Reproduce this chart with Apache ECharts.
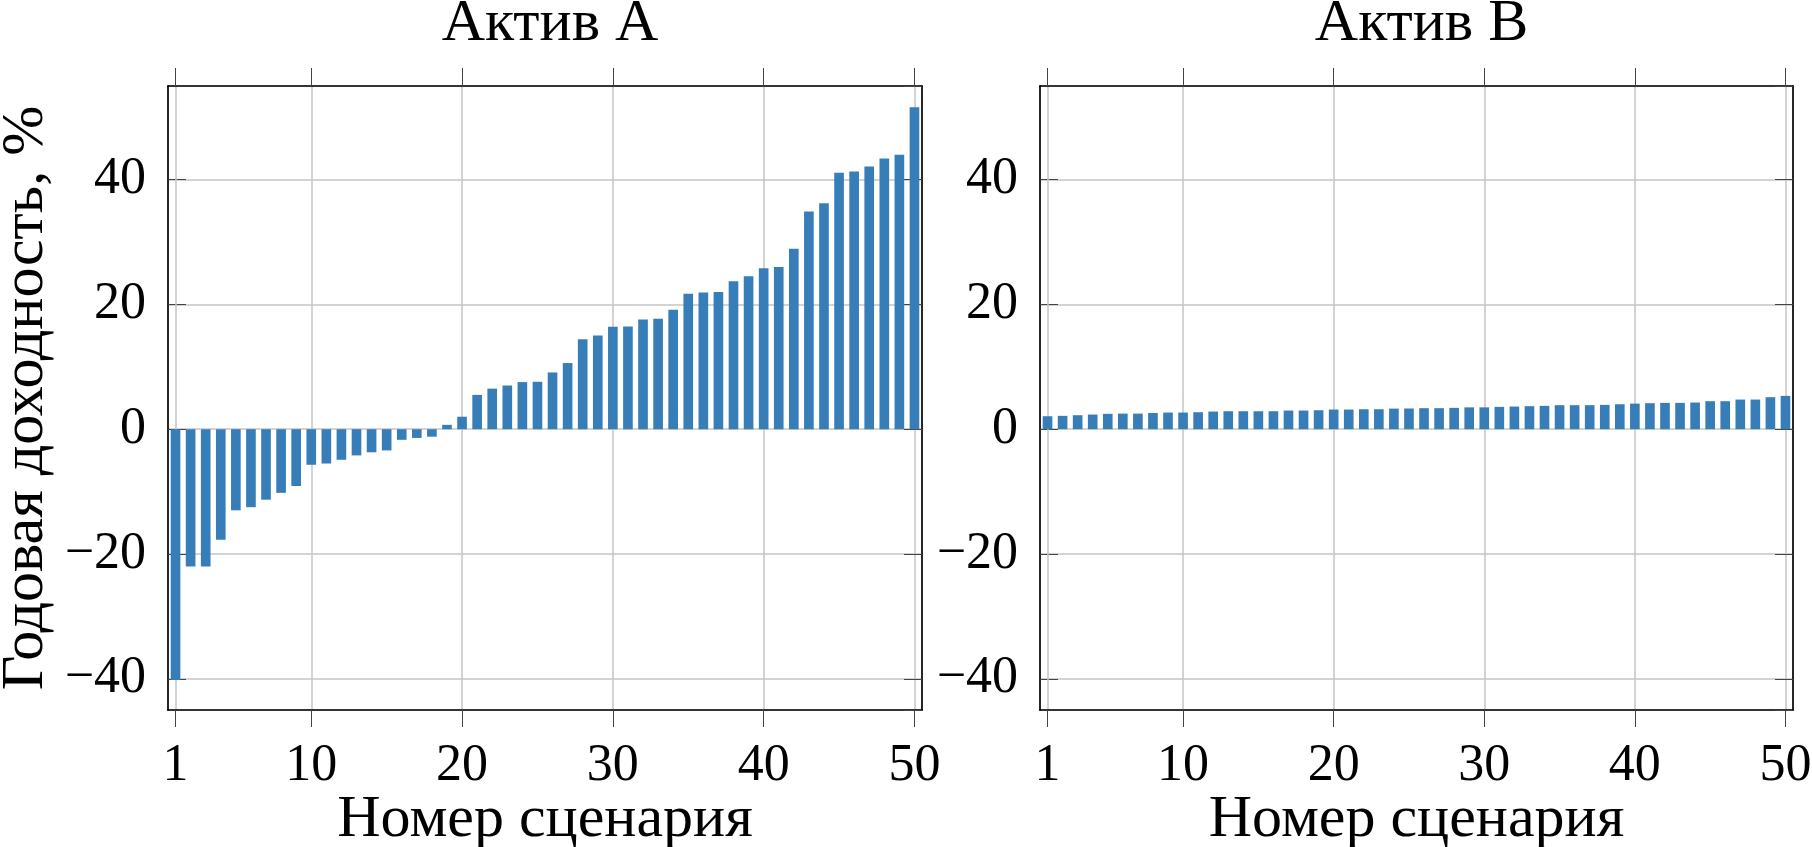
<!DOCTYPE html>
<html>
<head>
<meta charset="utf-8">
<script src="https://cdn.jsdelivr.net/npm/echarts@6/dist/echarts.min.js"></script>
<style>
html,body{margin:0;padding:0;background:#fff;}
#chart{width:1812px;height:847px;}
</style>
</head>
<body>
<div id="chart"></div>
<script>
// ---- data ----
const scenarios = Array.from({length: 50}, (_, i) => String(i + 1));
const titles = ['Актив A', 'Актив B'];
const assetA = [
  -40.2, -22.0, -22.0, -17.7, -13.0, -12.5, -11.3, -10.2, -9.1, -5.7,
  -5.5, -4.9, -4.2, -3.7, -3.4, -1.7, -1.4, -1.2, 0.7, 2.0,
  5.5, 6.5, 7.0, 7.55, 7.6, 9.1, 10.6, 14.4, 15.0, 16.4,
  16.45, 17.6, 17.7, 19.15, 21.7, 21.9, 22.0, 23.7, 24.5, 25.8,
  26.0, 28.9, 34.9, 36.2, 41.1, 41.3, 42.1, 43.4, 44.0, 51.6
];
const assetB = [
  2.08, 2.14, 2.24, 2.35, 2.46, 2.5, 2.5, 2.6, 2.67, 2.67,
  2.72, 2.83, 2.88, 2.88, 2.88, 2.88, 2.99, 2.99, 3.04, 3.15,
  3.15, 3.2, 3.2, 3.3, 3.32, 3.37, 3.37, 3.42, 3.5, 3.5,
  3.58, 3.63, 3.69, 3.74, 3.85, 3.85, 3.85, 3.9, 4.0, 4.1,
  4.17, 4.22, 4.22, 4.27, 4.49, 4.49, 4.75, 4.75, 5.13, 5.34
];
const yMin = -45, yMax = 55;
const xAxisName = 'Номер сценария';
const yAxisName = 'Годовая доходность, %';

// ---- styling ----
const FONT = 'Liberation Serif';
const FS = 52;
const NAME_FS = 60;
const barColor = '#377eb8';
const gridColor = '#c4c4c4';
const tickColor = '#444444';
const frame = {show: true, onZero: false, lineStyle: {color: '#000', width: 1.7}};
const showCat = (idx) => idx === 0 || (idx + 1) % 10 === 0;
const fmtNum = (v) => (v % 20 === 0 ? String(v).replace('-', '\u2212') : '');

const grids = [
  {left: 168, top: 86, width: 754, height: 624},
  {left: 1040, top: 86, width: 753, height: 624}
];

const option = {
  animation: false,
  backgroundColor: '#fff',
  title: titles.map((t, i) => ({
    text: t,
    left: grids[i].left + grids[i].width / 2,
    top: -11,
    textAlign: 'center',
    textStyle: {fontFamily: FONT, fontSize: 60, fontWeight: 'normal', color: '#000'}
  })),
  grid: grids.map(g => Object.assign({show: false, containLabel: false, outerBoundsMode: 'none'}, g)),
  xAxis: [],
  yAxis: [],
  series: []
};

[0, 1].forEach(i => {
  // bottom x axis
  option.xAxis.push({
    type: 'category', gridIndex: i, position: 'bottom', data: scenarios, z: 5,
    name: xAxisName, nameLocation: 'middle', nameGap: 80, nameMoveOverlap: false,
    nameTextStyle: {fontFamily: FONT, fontSize: NAME_FS, color: '#000'},
    axisLine: frame,
    axisTick: {show: true, inside: false, length: 17, alignWithLabel: true, interval: showCat, lineStyle: {color: tickColor, width: 1}},
    axisLabel: {show: true, interval: showCat, margin: 30, fontFamily: FONT, fontSize: FS, color: '#000'},
    splitLine: {show: true, interval: showCat, alignWithLabel: true, lineStyle: {color: gridColor, width: 1.5}}
  });
  // top x axis (frame + ticks)
  option.xAxis.push({
    type: 'category', gridIndex: i, position: 'top', data: scenarios, z: 5,
    axisLine: frame,
    axisTick: {show: true, inside: false, length: 18, alignWithLabel: true, interval: showCat, lineStyle: {color: tickColor, width: 1}},
    axisLabel: {show: false},
    splitLine: {show: false}
  });
  // left y axis
  option.yAxis.push({
    type: 'value', gridIndex: i, position: 'left', min: yMin, max: yMax, z: 1,
    name: i === 0 ? yAxisName : '', nameLocation: 'middle', nameGap: 112, nameMoveOverlap: false,
    nameTextStyle: {fontFamily: FONT, fontSize: NAME_FS, color: '#000'},
    axisLine: frame,
    axisTick: {show: true, inside: true, length: 18, lineStyle: {color: tickColor, width: 1}},
    axisLabel: {show: true, margin: 22, fontFamily: FONT, fontSize: FS, color: '#000', formatter: fmtNum, showMinLabel: false, showMaxLabel: false},
    splitLine: {show: true, lineStyle: {color: gridColor, width: 1.5}}
  });
  // right y axis (frame + ticks)
  option.yAxis.push({
    type: 'value', gridIndex: i, position: 'right', min: yMin, max: yMax, z: 5,
    axisLine: frame,
    axisTick: {show: true, inside: true, length: 18, lineStyle: {color: tickColor, width: 1}},
    axisLabel: {show: false},
    splitLine: {show: false}
  });
  option.series.push({
    type: 'bar',
    xAxisIndex: i * 2,
    yAxisIndex: i * 2,
    data: i === 0 ? assetA : assetB,
    barWidth: '64%',
    itemStyle: {color: barColor},
    z: 6
  });
});

const chart = echarts.init(document.getElementById('chart'), null, {renderer: 'canvas'});
chart.setOption(option);
</script>
</body>
</html>
